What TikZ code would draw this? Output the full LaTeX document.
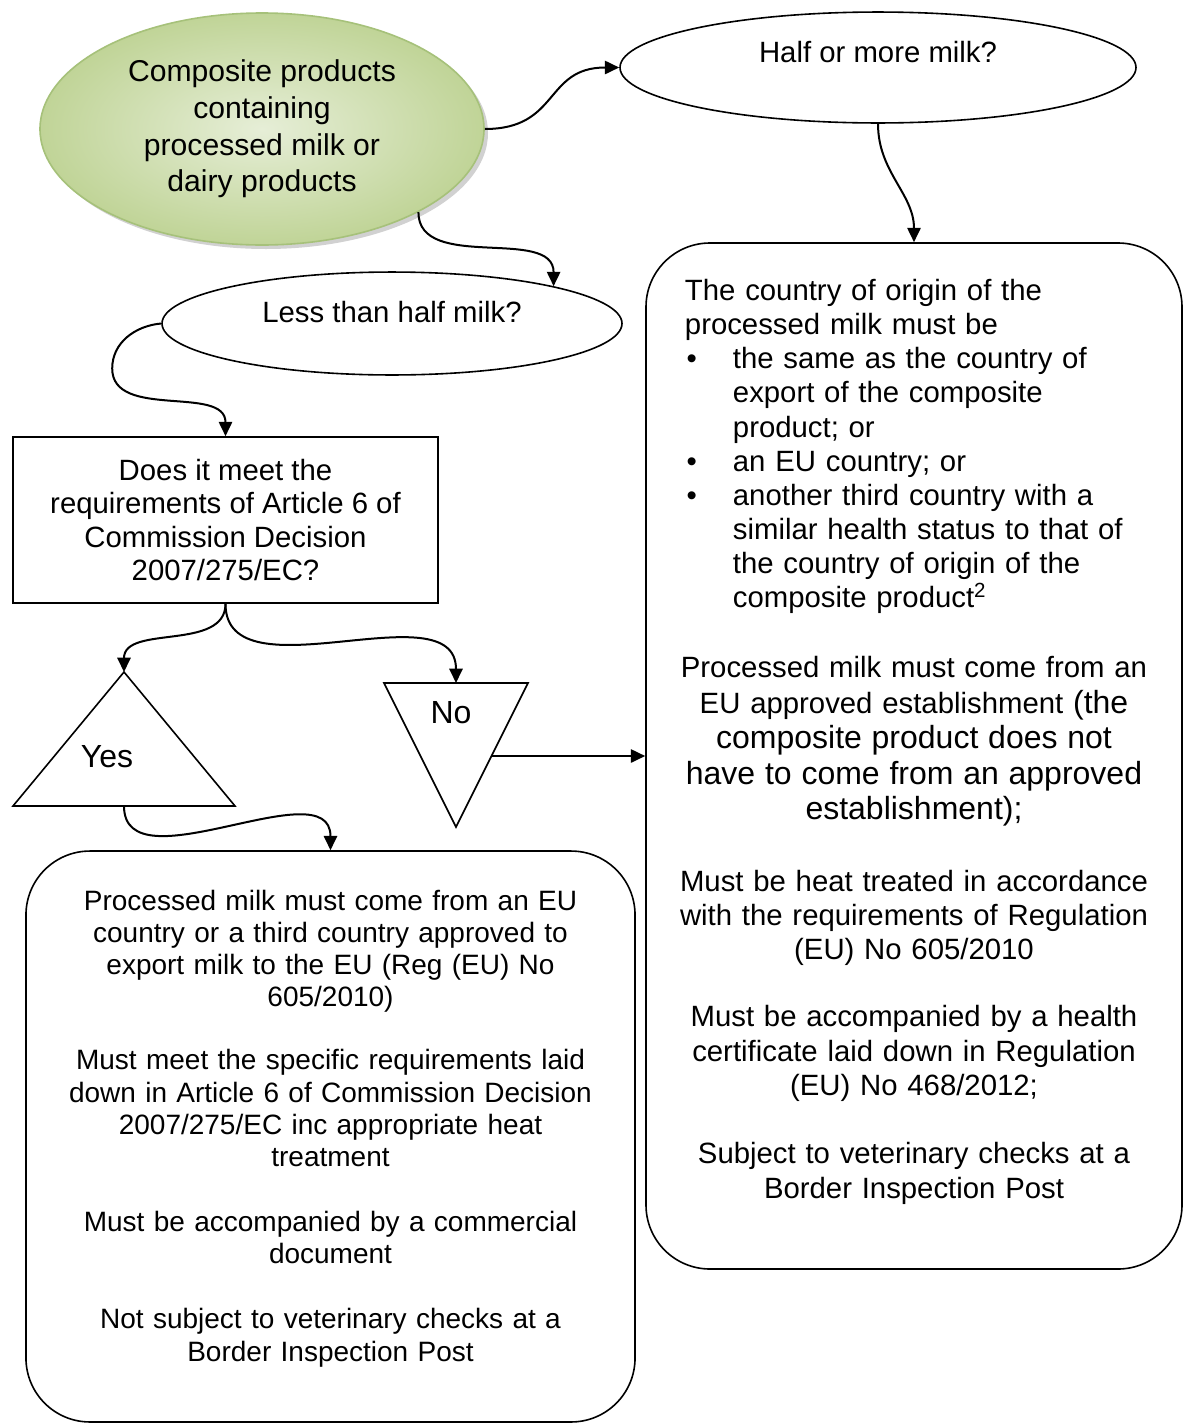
\documentclass[tikz,border=0pt]{standalone}
\usepackage{fontspec}
\setmainfont{Liberation Sans}
\usetikzlibrary{shapes.geometric,arrows.meta,shadows}

\definecolor{milklight}{HTML}{E6EED7}
\definecolor{milkdark}{HTML}{C0D497}
\definecolor{milkedge}{HTML}{A6C17A}

\newcommand{\milkpoint}[1]{\par\hangindent=18pt\hangafter=1\noindent
  \makebox[18pt][l]{\hspace{0.6pt}\textbullet}#1\par}

\begin{document}
\begin{tikzpicture}[x=0.375pt,y=-0.375pt,
    flow/.style={line width=0.75pt,-{Triangle[length=5.4pt,width=5pt]}},
    outline/.style={draw,line width=0.6pt,inner sep=0pt},
    question/.style={outline,ellipse,font=\fontsize{11}{12.65}\selectfont},
    bigbox/.style={outline,rectangle,rounded corners=24pt}]
\useasboundingbox (0,0) rectangle (1185,1425);

% start and the two questions
\node[ellipse,draw=milkedge,line width=0.6pt,inner sep=0pt,
  inner color=milklight,outer color=milkdark,
  drop shadow={shadow xshift=1.5pt,shadow yshift=-1.5pt,fill=black!40,opacity=0.45},
  minimum width=166.5pt,minimum height=87pt,align=center,
  font=\fontsize{11.3}{13.8}\selectfont] (comp) at (262,129)
  {Composite products\\containing\\processed milk or\\dairy products};

\node[question,minimum width=193.5pt,minimum height=41.6pt,
  text height=8pt,text depth=11.8pt] (half) at (878,67.5) {Half or more milk?};
\node[question,minimum width=172.5pt,minimum height=38.6pt,
  text height=8pt,text depth=8.8pt] (less) at (392,323.5) {Less than half milk?};

\node[outline,minimum width=159.4pt,minimum height=62.25pt,align=center,
  font=\fontsize{11}{12.5}\selectfont] (doesit) at (225.5,520)
  {Does it meet the\\requirements of Article 6 of\\Commission Decision\\2007/275/EC?};

% yes / no triangles
\draw[line width=0.6pt] (13,806) -- (124,672) -- (235,806) -- cycle;
\coordinate (yestop) at (124,672);
\coordinate (yesbase) at (124,806);
\node[font=\fontsize{12}{14}\selectfont] (yes) at (107,757) {Yes};

\draw[line width=0.6pt] (384,683) -- (528,683) -- (456,827) -- cycle;
\coordinate (notop) at (456,683);
\coordinate (noright) at (491.5,756);
\node[font=\fontsize{12}{14}\selectfont] (no) at (451,713) {No};

% outcome boxes
\node[bigbox,minimum width=201pt,minimum height=384.75pt] (highmilk) at (914,756) {};
\node[anchor=base,text width=176pt,inner sep=0pt,
  font=\fontsize{11}{12.8}\selectfont] (hightext) at (914,300.5) {%
  {\raggedright\leftskip=2.1pt
  The country of origin of the\\
  processed milk must be\par
  \milkpoint{the same as the country of\newline export of the composite\newline product; or}
  \milkpoint{an EU country; or}
  \milkpoint{another third country with a\newline similar health status to that of\newline the country of origin of the\newline composite product\textsuperscript{2}}}
  \vspace{13pt}
  \centering
  {\fontsize{11}{13.3}\selectfont Processed milk must come from an\\
  EU approved establishment \fontsize{12}{13.3}\selectfont(the\\
  composite product does not\\
  have to come from an approved\\
  establishment);\par}
  \vspace{14pt}
  Must be heat treated in accordance\\
  with the requirements of Regulation\\
  (EU) No 605/2010\par
  \vspace{12.5pt}
  Must be accompanied by a health\\
  certificate laid down in Regulation\\
  (EU) No 468/2012;\par
  \vspace{13pt}
  Subject to veterinary checks at a\\
  Border Inspection Post\par};

\node[bigbox,minimum width=228.4pt,minimum height=214.1pt] (lowmilk) at (330.5,1136.5) {};
\node[anchor=base,text width=205pt,inner sep=0pt,
  font=\fontsize{10.5}{12.1}\selectfont] (lowtext) at (330.5,910) {%
  \centering
  Processed milk must come from an EU\\
  country or a third country approved to\\
  export milk to the EU (Reg (EU) No\\
  605/2010)\par
  \vspace{11.5pt}
  Must meet the specific requirements laid\\
  down in Article 6 of Commission Decision\\
  2007/275/EC inc appropriate heat\\
  treatment\par
  \vspace{12.3pt}
  Must be accompanied by a commercial\\
  document\par
  \vspace{12.3pt}
  Not subject to veterinary checks at a\\
  Border Inspection Post\par};

% connectors
\draw[flow] (comp.east) to[out=0,in=180,looseness=1.3] (half.west);
\draw[flow] (comp.-28) to[out=-90,in=90] (less.13);
\draw[flow] (half.south) to[out=-90,in=90] (highmilk.north);
\draw[flow] (less.west) to[out=185,in=90] ++(-49,45) to[out=-90,in=90] (doesit.north);
\draw[flow] (doesit.south) to[out=-90,in=90] (yestop);
\draw[flow] (doesit.south) to[out=-90,in=90] (notop);
\draw[flow] (noright) -- (highmilk.west);
\draw[flow] (yesbase) to[out=-90,in=90] (lowmilk.north);
\end{tikzpicture}
\end{document}
